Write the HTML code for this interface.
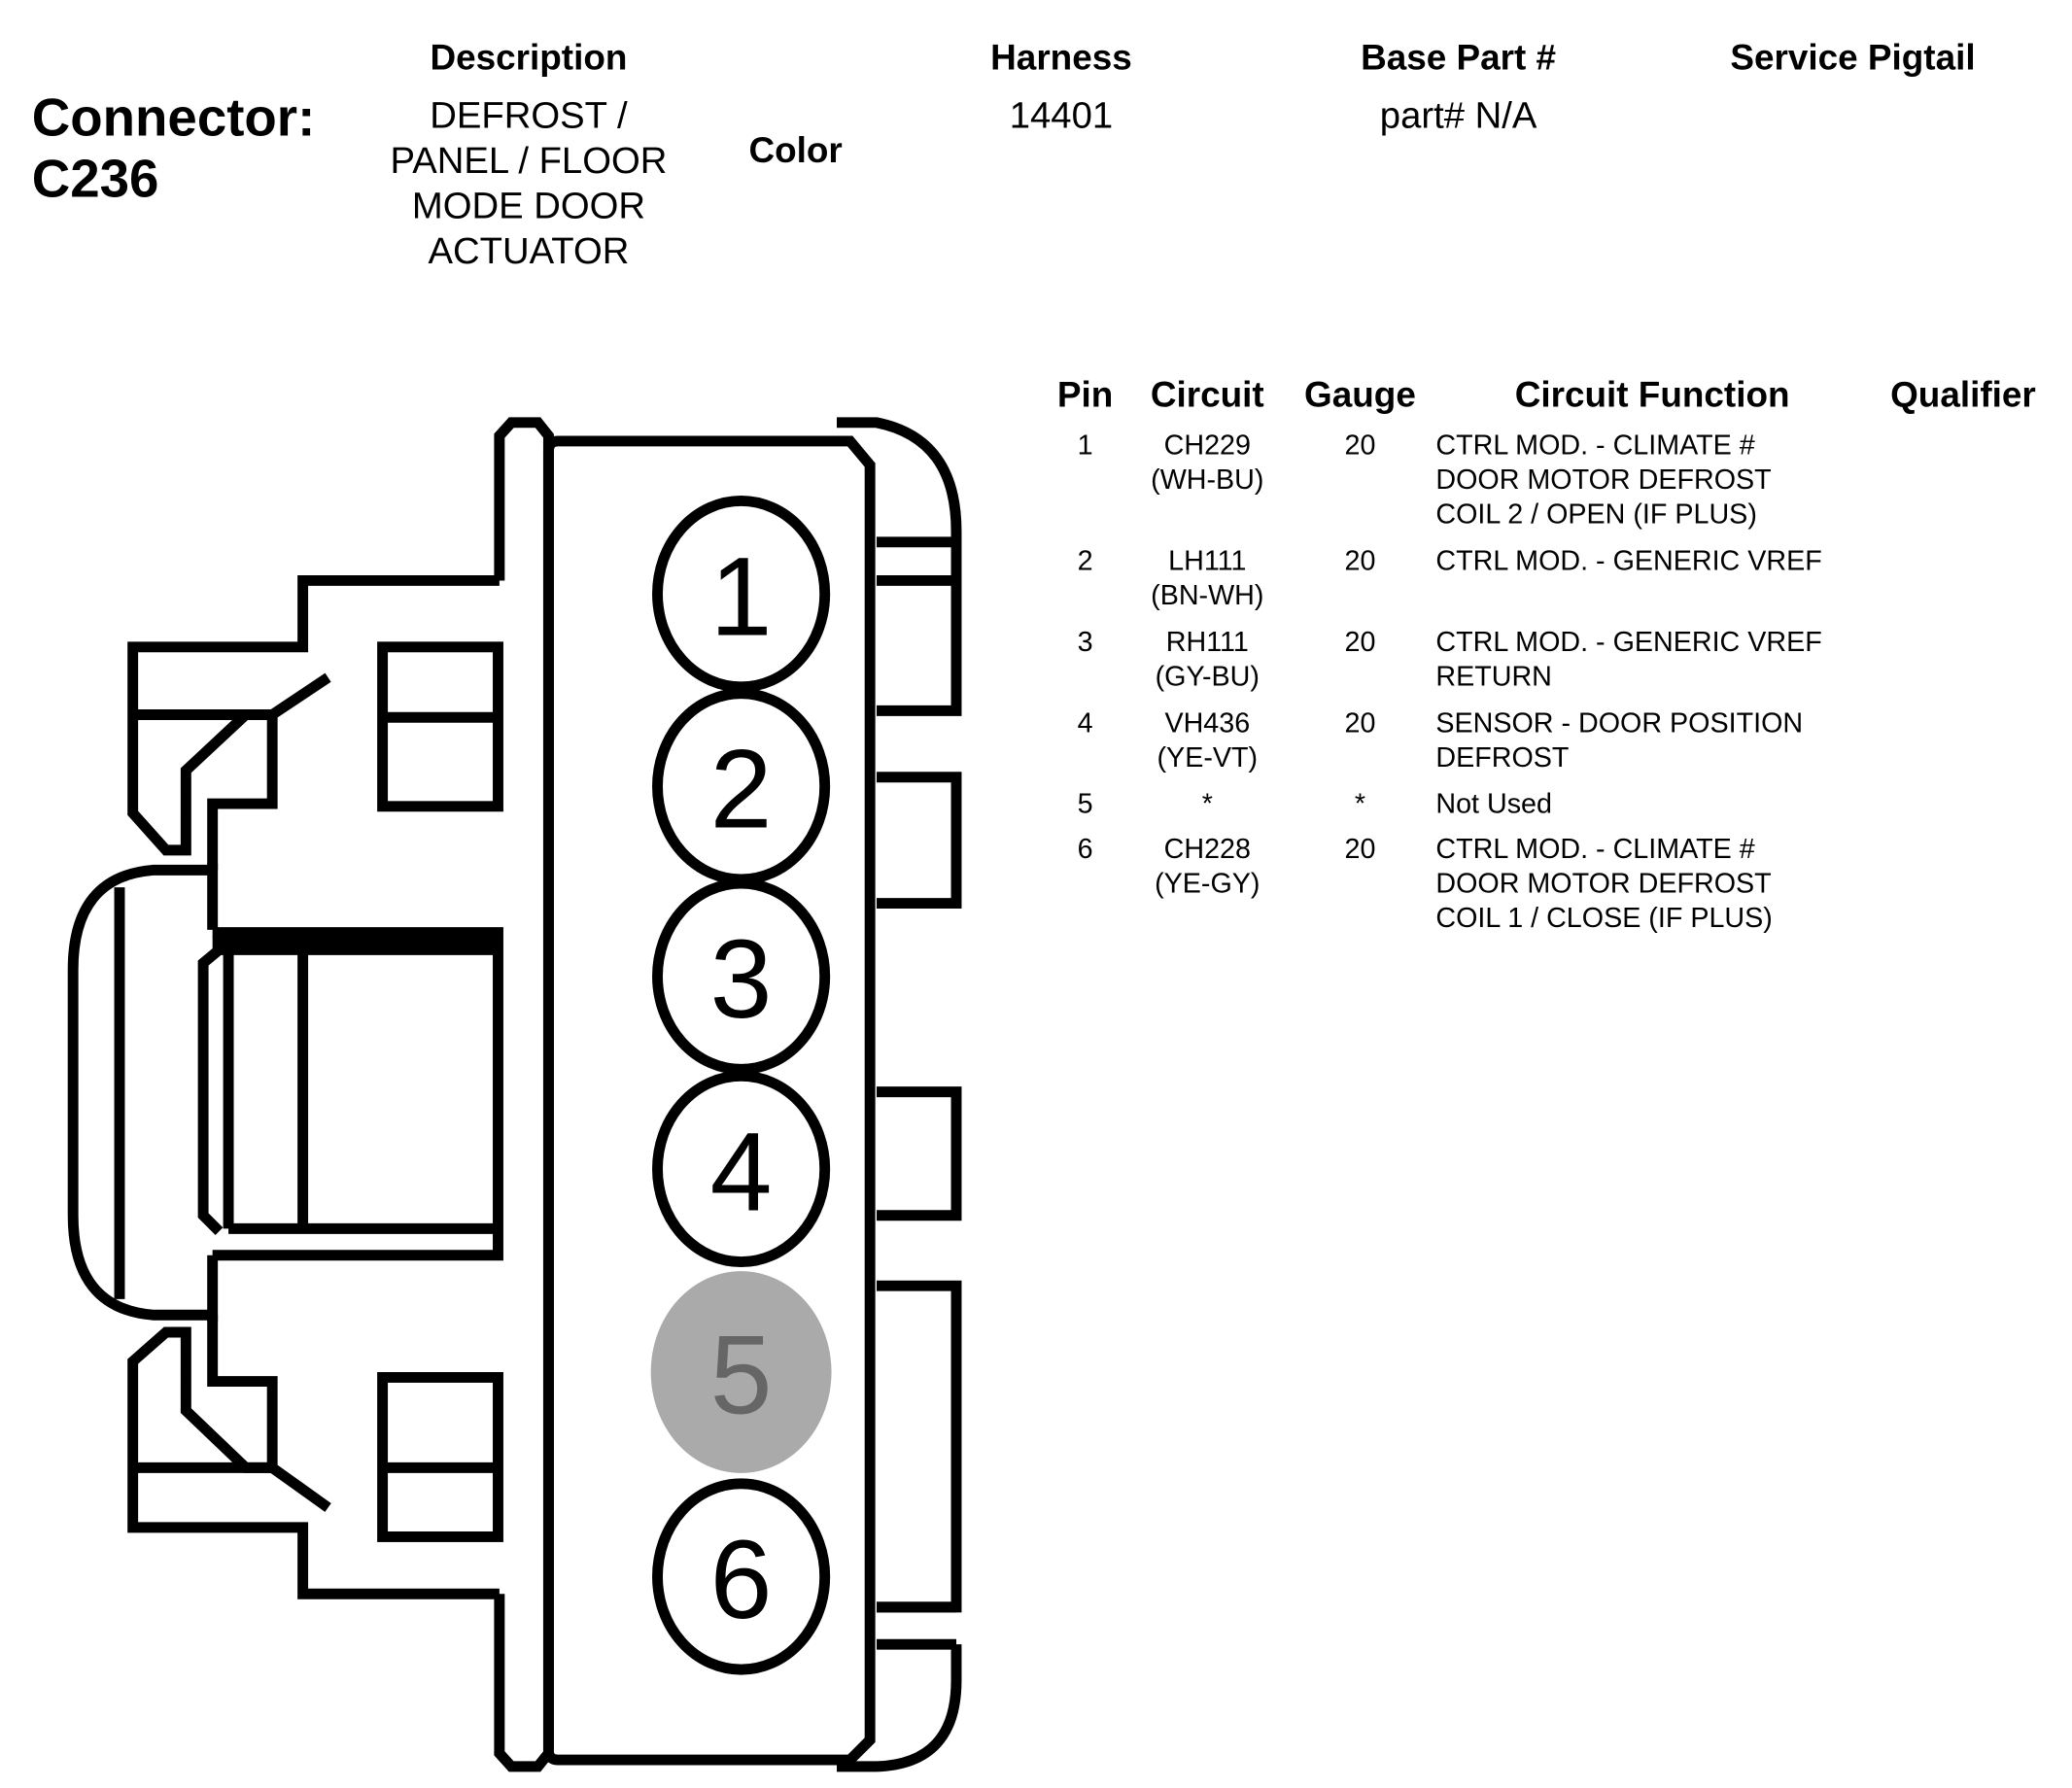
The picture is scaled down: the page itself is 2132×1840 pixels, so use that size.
<!DOCTYPE html>
<html><head><style>
html,body{margin:0;padding:0;background:#fff;}
svg{display:block;}
text{font-family:"Liberation Sans",Arial,sans-serif;fill:#000;}
.h{font-weight:bold;font-size:27px;}
.t{font-size:21px;}
</style></head><body>
<svg width="2132" height="1840" viewBox="0 0 1560 1346" xmlns="http://www.w3.org/2000/svg">
<rect width="1560" height="1346" fill="#fff"/>
<text x="24" y="102" style="font-weight:bold;font-size:40px">Connector:</text>
<text x="24" y="148" style="font-weight:bold;font-size:40px">C236</text>
<g text-anchor="middle">
<text x="398" y="52" class="h">Description</text>
<text x="799" y="52" class="h">Harness</text>
<text x="1098" y="52" class="h">Base Part #</text>
<text x="1395" y="52" class="h">Service Pigtail</text>
<text x="599" y="122" class="h">Color</text>
</g>
<g text-anchor="middle" style="font-size:28px">
<text x="398" y="96" style="font-size:28px">DEFROST /</text>
<text x="398" y="130" style="font-size:28px">PANEL / FLOOR</text>
<text x="398" y="164" style="font-size:28px">MODE DOOR</text>
<text x="398" y="198" style="font-size:28px">ACTUATOR</text>
<text x="799" y="96" style="font-size:28px">14401</text>
<text x="1098" y="96" style="font-size:28px">part# N/A</text>
</g>
<g text-anchor="middle">
<text x="817" y="306" class="h">Pin</text>
<text x="909" y="306" class="h">Circuit</text>
<text x="1024" y="306" class="h">Gauge</text>
<text x="1244" y="306" class="h">Circuit Function</text>
<text x="1478" y="306" class="h">Qualifier</text>
</g>
<g>
<g text-anchor="middle">
<text x="817" y="342" class="t">1</text><text x="909" y="342" class="t">CH229</text><text x="909" y="368" class="t">(WH-BU)</text><text x="1024" y="342" class="t">20</text>
<text x="817" y="429" class="t">2</text><text x="909" y="429" class="t">LH111</text><text x="909" y="455" class="t">(BN-WH)</text><text x="1024" y="429" class="t">20</text>
<text x="817" y="490" class="t">3</text><text x="909" y="490" class="t">RH111</text><text x="909" y="516" class="t">(GY-BU)</text><text x="1024" y="490" class="t">20</text>
<text x="817" y="551" class="t">4</text><text x="909" y="551" class="t">VH436</text><text x="909" y="577" class="t">(YE-VT)</text><text x="1024" y="551" class="t">20</text>
<text x="817" y="612" class="t">5</text><text x="909" y="612" class="t">*</text><text x="1024" y="612" class="t">*</text>
<text x="817" y="646" class="t">6</text><text x="909" y="646" class="t">CH228</text><text x="909" y="672" class="t">(YE-GY)</text><text x="1024" y="646" class="t">20</text>
</g>
<text x="1081" y="342" class="t">CTRL MOD. - CLIMATE #</text>
<text x="1081" y="368" class="t">DOOR MOTOR DEFROST</text>
<text x="1081" y="394" class="t">COIL 2 / OPEN (IF PLUS)</text>
<text x="1081" y="429" class="t">CTRL MOD. - GENERIC VREF</text>
<text x="1081" y="490" class="t">CTRL MOD. - GENERIC VREF</text>
<text x="1081" y="516" class="t">RETURN</text>
<text x="1081" y="551" class="t">SENSOR - DOOR POSITION</text>
<text x="1081" y="577" class="t">DEFROST</text>
<text x="1081" y="612" class="t">Not Used</text>
<text x="1081" y="646" class="t">CTRL MOD. - CLIMATE #</text>
<text x="1081" y="672" class="t">DOOR MOTOR DEFROST</text>
<text x="1081" y="698" class="t">COIL 1 / CLOSE (IF PLUS)</text>
</g>

<g fill="none" stroke="#000" stroke-width="8" stroke-linejoin="miter">
<path d="M420,332 H640 L655,350 V1310 L640,1325 H420 Q413,1325 413,1318 V340 Q413,332 420,332 Z"/>
<path d="M376,437 V328 L385,318 H405 L413,328 V1320 L405,1330 H385 L376,1320 V1200"/>
<path d="M630,318 H660 Q720,330 720,400 V535 H660"/>
<line x1="660" y1="408" x2="720" y2="408"/><line x1="660" y1="437" x2="720" y2="437"/>
<path d="M660,585 H720 V680 H660"/>
<path d="M660,822 H720 V915 H660"/>
<path d="M660,968 H720 V1210 H660"/>
<line x1="660" y1="1210" x2="720" y2="1210"/><line x1="660" y1="1238" x2="720" y2="1238"/>
<path d="M720,1238 V1265 Q720,1328 660,1330 H630"/>
<path d="M376,437 H228 V487 H100 V612 L125,640 H140 V580 L185,538 H205 V605 H160 V655"/>
<line x1="100" y1="538" x2="205" y2="538"/>
<line x1="205" y1="538" x2="247" y2="510"/>
<rect x="288" y="487" width="87" height="120"/>
<line x1="288" y1="540" x2="375" y2="540"/>
<path d="M376,1200 H228 V1150 H100 V1025 L125,1003 H140 V1062 L185,1105 H205 V1040 H160 V990"/>
<line x1="100" y1="1105" x2="205" y2="1105"/>
<line x1="205" y1="1105" x2="247" y2="1135"/>
<rect x="288" y="1037" width="87" height="120"/>
<line x1="288" y1="1105" x2="375" y2="1105"/>
<path d="M160,655 H115 Q55,660 55,730 V915 Q55,985 115,990 H160"/>
<line x1="90" y1="668" x2="90" y2="978"/>
<line x1="160" y1="650" x2="160" y2="700"/><line x1="160" y1="945" x2="160" y2="995"/>
<path d="M160,702 H375 V945 H160"/>
<line x1="160" y1="712" x2="375" y2="712" stroke-width="14"/>
<line x1="172" y1="712" x2="172" y2="925"/>
<line x1="228" y1="712" x2="228" y2="925"/>
<line x1="172" y1="925" x2="375" y2="925"/>
<path d="M165,715 L153,725 V915 L165,927"/>
</g>
<g stroke="#000" stroke-width="8" fill="#fff">
<ellipse cx="558" cy="447" rx="63" ry="70"/>
<ellipse cx="558" cy="592" rx="63" ry="70"/>
<ellipse cx="558" cy="735" rx="63" ry="70"/>
<ellipse cx="558" cy="880" rx="63" ry="70"/>
<ellipse cx="558" cy="1187" rx="63" ry="70"/>
</g>
<ellipse cx="558" cy="1033" rx="68" ry="76" fill="#aaaaaa"/>
<g text-anchor="middle">
<text x="558" y="478" style="font-size:84px">1</text>
<text x="558" y="623" style="font-size:84px">2</text>
<text x="558" y="766" style="font-size:84px">3</text>
<text x="558" y="911" style="font-size:84px">4</text>
<text x="558" y="1064" style="font-size:84px;fill:#666">5</text>
<text x="558" y="1218" style="font-size:84px">6</text>
</g>
</svg>
</body></html>
